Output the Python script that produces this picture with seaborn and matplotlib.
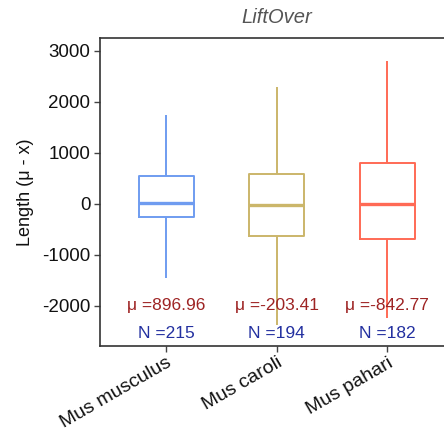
import matplotlib
matplotlib.use("Agg")
import matplotlib.pyplot as plt
import seaborn as sns
import pandas as pd

# Per-species length distribution: min, Q1, median, Q3, max
species = ["Mus musculus", "Mus caroli", "Mus pahari"]
musculus = [-1457, -261, 20, 549, 1745]
caroli = [-2373, -627, -13, 582, 2300]
pahari = [-2242, -693, 0, 804, 2810]
means = [896.96, -203.41, -842.77]
counts = [215, 194, 182]
colors = ["#6f9cf0", "#cbb66a", "#ff6a55"]

df = pd.DataFrame({
    "species": [s for s, v in zip(species, [musculus, caroli, pahari]) for _ in v],
    "length": musculus + caroli + pahari,
})

sns.set_style("ticks")
plt.rcParams["font.family"] = ["Liberation Sans", "DejaVu Sans"]
plt.rcParams["axes.unicode_minus"] = False

fig = plt.figure(figsize=(4.44, 4.34), dpi=100)
ax = fig.add_axes([0.2252, 0.2028, 0.796, 0.7097])

sns.boxplot(
    data=df, x="species", y="length", hue="species", order=species,
    palette=colors, fill=False, whis=(0, 100), width=0.5, linewidth=1.4,
    showcaps=False, medianprops={"linewidth": 2.4}, legend=False, ax=ax,
)

for i, (m, n) in enumerate(zip(means, counts)):
    ax.text(i, -2000, f"μ ={m:.2f}", ha="center", va="center",
            fontsize=12.5, color="#9e2424")
    ax.text(i, -2530, f"N ={n}", ha="center", va="center",
            fontsize=12.5, color="#2330a0")

ax.set_xlim(-0.6, 2.6)
ax.set_ylim(-2784, 3255)
ax.set_yticks([-2000, -1000, 0, 1000, 2000, 3000])
ax.set_xlabel("")
ax.set_ylabel("Length (μ - x)", fontsize=13, color="#111111", labelpad=6)
ax.set_title("LiftOver", fontsize=14.5, style="italic", color="#555555", pad=11)
ax.tick_params(axis="y", labelsize=13.5, length=4, width=1, color="#444444",
               labelcolor="#111111", pad=3)
ax.tick_params(axis="x", labelsize=14, length=4, width=1, color="#444444",
               labelcolor="#111111", pad=2)
plt.setp(ax.get_xticklabels(), rotation=30, ha="right", rotation_mode="anchor")
for sp in ax.spines.values():
    sp.set_visible(True)
    sp.set_color("#333333")
    sp.set_linewidth(1.2)

fig.savefig("out.png", dpi=100)
